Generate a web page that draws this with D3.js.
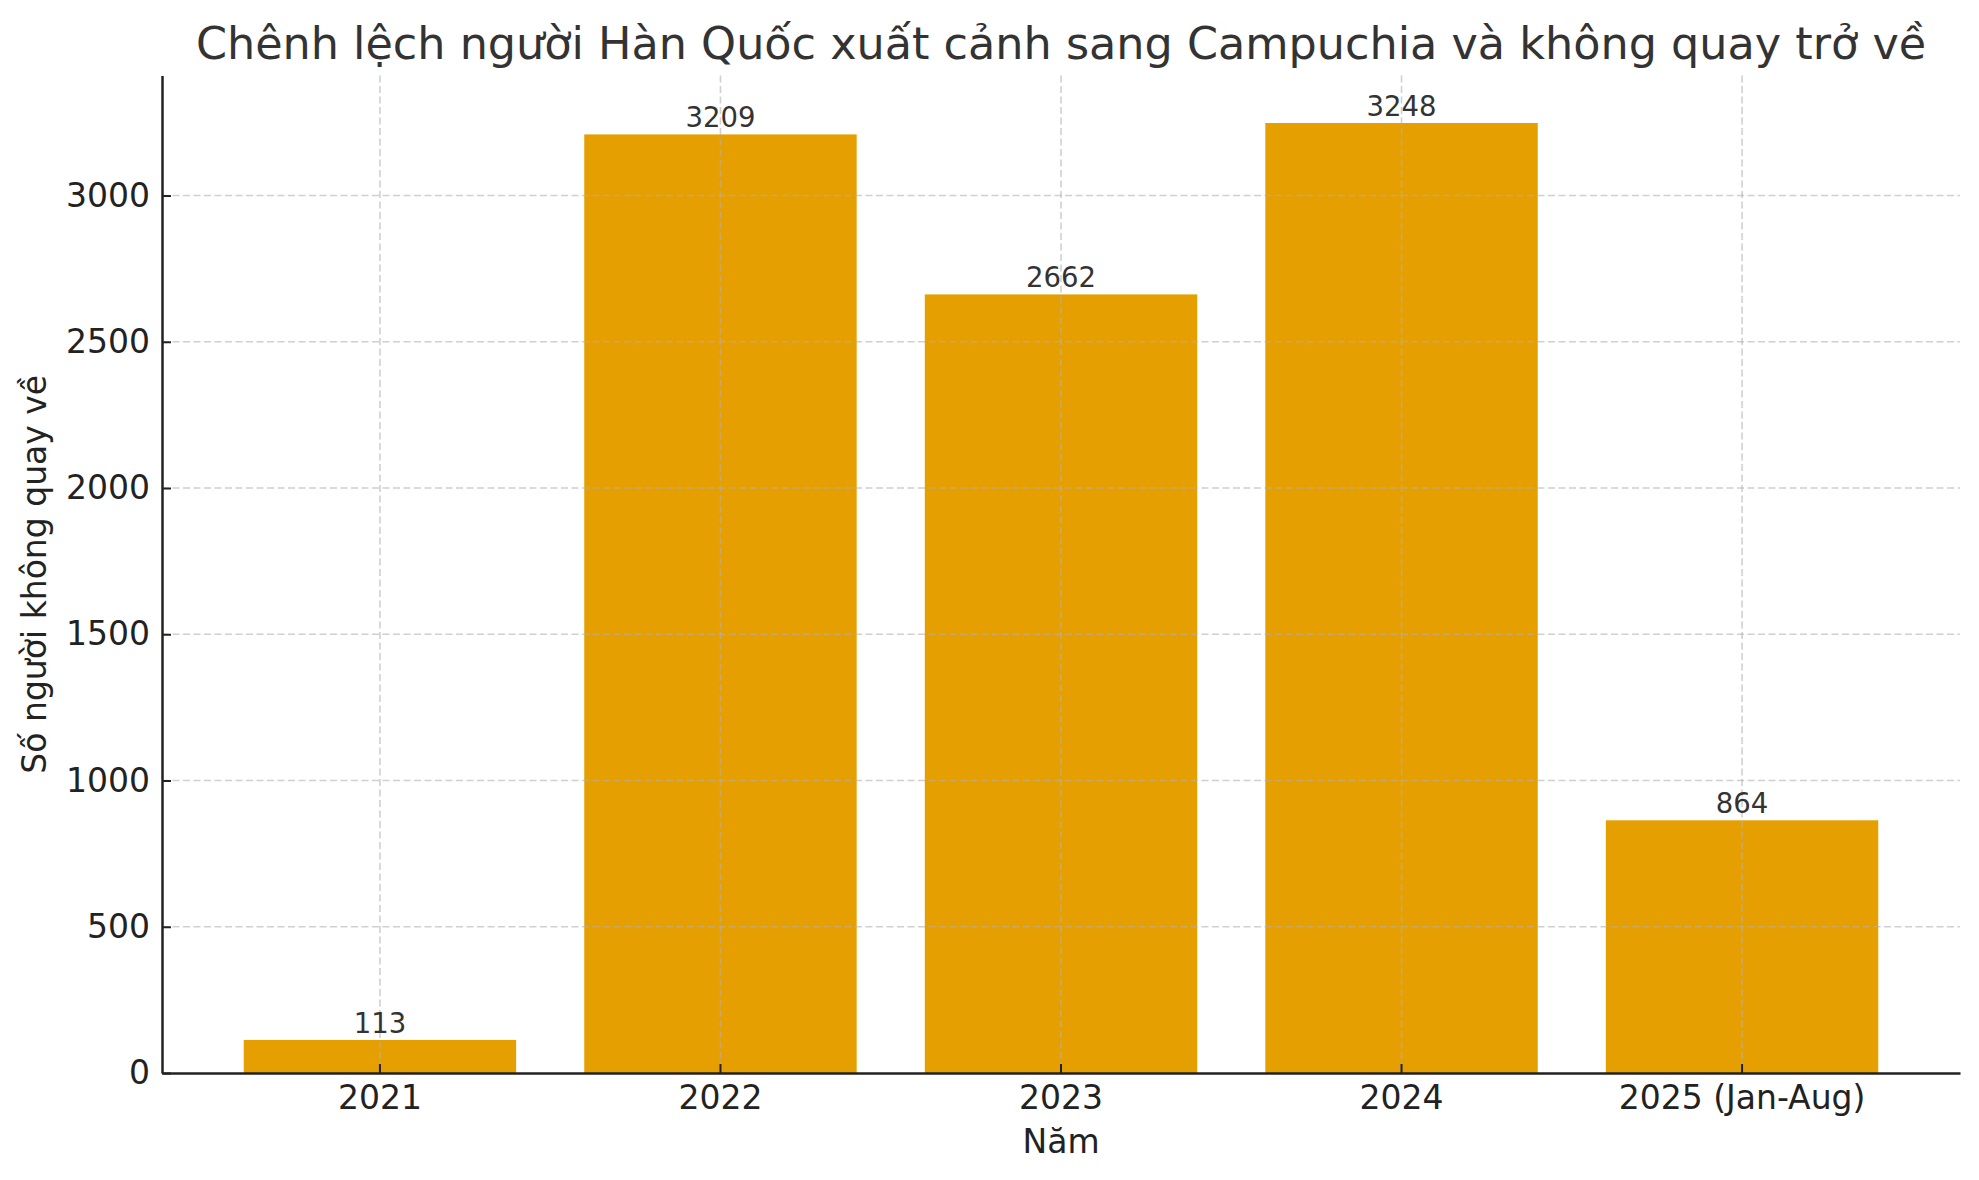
<!DOCTYPE html>
<html>
<head>
<meta charset="utf-8">
<script src="https://cdn.jsdelivr.net/npm/d3@7"></script>
<style>
  html, body { margin: 0; padding: 0; background: #fff; }
  svg { display: block; font-family: "DejaVu Sans", sans-serif; }
</style>
</head>
<body>
<svg id="chart" width="1979" height="1180"></svg>
<script>
const categories = ["2021", "2022", "2023", "2024", "2025 (Jan-Aug)"];
const values = [113, 3209, 2662, 3248, 864];
const yTicks = [0, 500, 1000, 1500, 2000, 2500, 3000];
const titleText = "Chênh lệch người Hàn Quốc xuất cảnh sang Campuchia và không quay trở về";
const xLabelText = "Năm";
const yLabelText = "Số người không quay về";

(function () {
const svg = d3.select("#chart");
const W = 1979, H = 1180;
const mLeft = 162, mRight = 1960, mTop = 75.5, mBottom = 1073;

svg.append("rect").attr("width", W).attr("height", H).attr("fill", "#fff");

const x = d3.scaleBand()
  .domain(categories)
  .range([mLeft, mRight])
  .paddingInner(0.2)
  .paddingOuter(0.24);

const y = d3.scaleLinear()
  .domain([0, d3.max(values) * 1.05])
  .range([mBottom, mTop]);

// bars
svg.append("g").selectAll("rect")
  .data(values)
  .join("rect")
  .attr("x", (d, i) => x(categories[i]))
  .attr("y", d => y(d))
  .attr("width", x.bandwidth())
  .attr("height", d => y(0) - y(d))
  .attr("fill", "#E69F00");

// grid (drawn above bars)
const grid = svg.append("g").attr("stroke", "#b0b0b0").attr("stroke-opacity", 0.6)
  .attr("stroke-width", 1.6).attr("stroke-dasharray", "7,3.5");
grid.selectAll("line.h").data(yTicks.filter(t => t > 0)).join("line").attr("class", "h")
  .attr("x1", mLeft).attr("x2", mRight)
  .attr("y1", d => y(d)).attr("y2", d => y(d));
grid.selectAll("line.v").data(categories).join("line").attr("class", "v")
  .attr("x1", d => x(d) + x.bandwidth() / 2).attr("x2", d => x(d) + x.bandwidth() / 2)
  .attr("y1", mTop).attr("y2", mBottom);

// value labels
svg.append("g").selectAll("text")
  .data(values)
  .join("text")
  .attr("x", (d, i) => x(categories[i]) + x.bandwidth() / 2)
  .attr("y", d => y(d) - 7)
  .attr("text-anchor", "middle")
  .attr("font-size", 27.5)
  .attr("fill", "#333")
  .text(d => d);

// axes
const yAxis = d3.axisLeft(y).tickValues(yTicks).tickFormat(d3.format("d"))
  .tickSizeInner(-9).tickSizeOuter(0).tickPadding(12);
const gy = svg.append("g").attr("transform", `translate(${mLeft},0)`).call(yAxis);
gy.select(".domain").attr("stroke", "#222").attr("stroke-width", 2.5);
gy.selectAll(".tick line").attr("stroke", "#222").attr("stroke-width", 2);
gy.selectAll(".tick text").attr("font-size", 33).attr("fill", "#222")
  .attr("font-family", "DejaVu Sans");

const xAxis = d3.axisBottom(x).tickSizeInner(-9).tickSizeOuter(0).tickPadding(12.5);
const gx = svg.append("g").attr("transform", `translate(0,${mBottom})`).call(xAxis);
gx.select(".domain").attr("stroke", "#222").attr("stroke-width", 2.7);
gx.selectAll(".tick line").attr("stroke", "#222").attr("stroke-width", 2);
gx.selectAll(".tick text").attr("font-size", 33).attr("fill", "#222")
  .attr("font-family", "DejaVu Sans");

// title
svg.append("text")
  .attr("x", (mLeft + mRight) / 2).attr("y", 59)
  .attr("text-anchor", "middle")
  .attr("font-size", 44.5)
  .attr("fill", "#333")
  .text(titleText);

// axis labels
svg.append("text")
  .attr("x", (mLeft + mRight) / 2).attr("y", 1153)
  .attr("text-anchor", "middle")
  .attr("font-size", 33)
  .attr("fill", "#222")
  .text(xLabelText);

svg.append("text")
  .attr("transform", `translate(46,${(mTop + mBottom) / 2}) rotate(-90)`)
  .attr("text-anchor", "middle")
  .attr("font-size", 33)
  .attr("fill", "#222")
  .text(yLabelText);
})();
</script>
</body>
</html>
